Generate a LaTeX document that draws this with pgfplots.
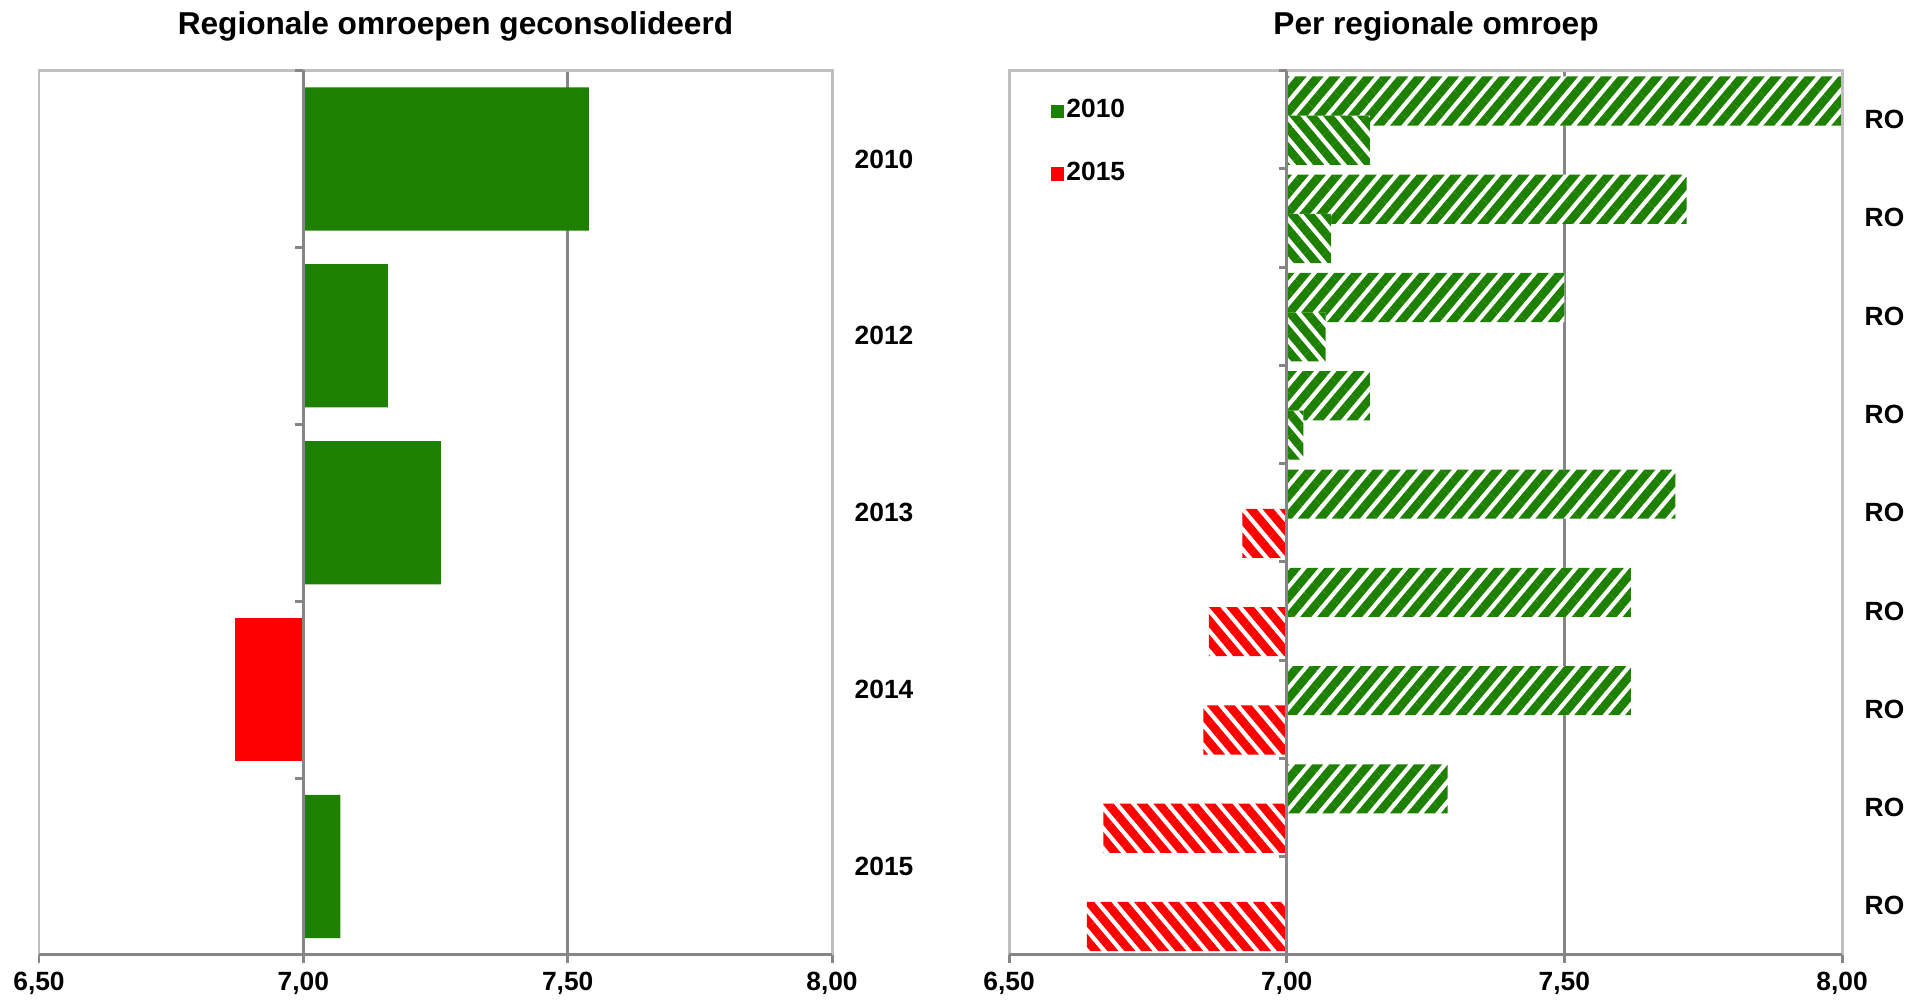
\documentclass[border=0pt]{standalone}
\usepackage{fontspec}
\setmainfont{Liberation Sans}
\usepackage{pgfplots}
\pgfplotsset{compat=1.18}
\usetikzlibrary{patterns.meta}
\definecolor{xgreen}{RGB}{30,128,0}
\definecolor{xred}{RGB}{255,0,0}
\definecolor{framegray}{RGB}{191,191,191}
\definecolor{axisgray}{RGB}{134,134,134}
\newcommand{\labfont}{\fontsize{7.5}{9}\selectfont\bfseries}
\tikzset{
  lab/.style={anchor=west, inner sep=0pt, xshift=2.2mm, font=\labfont},
  gnel/.style={fill=white, draw=none, postaction={pattern={Lines[angle=50,distance=1.3mm,line width=0.85mm]}, pattern color=xgreen}},
  gnwl/.style={fill=white, draw=none, postaction={pattern={Lines[angle=-50,distance=1.3mm,line width=0.85mm]}, pattern color=xgreen}},
  rnwl/.style={fill=white, draw=none, postaction={pattern={Lines[angle=-50,distance=1.3mm,line width=0.85mm]}, pattern color=xred}},
}
\pgfplotsset{
  panel/.style={
    scale only axis, anchor=south west, clip mode=individual,
    xmin=-0.5, xmax=1,
    x filter/.expression={x-7},
    axis line style={draw=none},
    xtick={-0.5,0,0.5,1},
    xticklabels={{6,50},{7,00},{7,50},{8,00}},
    xtick pos=left,
    ytick=\empty,
    tick align=outside,
    major tick length=0.8mm,
    tick style={axisgray, line width=0.85pt},
    xticklabel style={font=\labfont, inner sep=0pt, anchor=north, yshift=-0.8mm},
  },
}
\begin{document}
\begin{tikzpicture}
\useasboundingbox (0,0) rectangle (190.6mm,100mm);
\node[font=\fontsize{9}{11}\selectfont\bfseries, anchor=base] at (45.55mm,96.5mm) {Regionale omroepen geconsolideerd};
\node[font=\fontsize{9}{11}\selectfont\bfseries, anchor=base] at (143.6mm,96.5mm) {Per regionale omroep};

% Left panel
\begin{axis}[panel, at={(3.9mm,4.5mm)}, width=79.3mm, height=88.45mm, ymin=-0.5, ymax=4.5]
\draw[axisgray, line width=0.85pt] (rel axis cs:0.66667,0) -- (rel axis cs:0.66667,1);
\addplot[xbar, bar width=0.81, bar shift=0, fill=xgreen, draw=none, forget plot]
  coordinates {(7.54,4) (7.16,3) (7.26,2) (7.07,0)};
\addplot[xbar, bar width=0.81, bar shift=0, fill=xred, draw=none, forget plot]
  coordinates {(6.87,1)};
\draw[framegray, line width=0.85pt] (rel axis cs:0,0) -- (rel axis cs:0,1) -- (rel axis cs:1,1) -- (rel axis cs:1,0);
\draw[axisgray, line width=0.85pt] (rel axis cs:0.33333,0) -- (rel axis cs:0.33333,1);
\pgfplotsinvokeforeach{0.2,0.4,0.6,0.8,1}{\draw[axisgray, line width=0.85pt] (rel axis cs:0.33333,#1) -- ++(-0.8mm,0pt);}
\draw[axisgray, line width=0.85pt] (rel axis cs:0,0) -- (rel axis cs:1,0);
\node[lab] at (rel axis cs:1,0.9) {2010};
\node[lab] at (rel axis cs:1,0.7) {2012};
\node[lab] at (rel axis cs:1,0.5) {2013};
\node[lab] at (rel axis cs:1,0.3) {2014};
\node[lab] at (rel axis cs:1,0.1) {2015};
\end{axis}

% Right panel
\begin{axis}[panel, at={(100.9mm,4.5mm)}, width=83.3mm, height=88.45mm, ymin=-0.5, ymax=8.5,
  legend image code/.code={\fill[#1] (0.2mm,-0.6mm) rectangle (1.4mm,0.6mm);},
  legend style={at={(0.049,0.971)}, anchor=north west, draw=none, fill=none, inner sep=0pt,
    row sep=3.4mm, font=\labfont, nodes={inner sep=0.25mm}},
  legend cell align=left]
\draw[axisgray, line width=0.85pt] (rel axis cs:0.66667,0) -- (rel axis cs:0.66667,1);
% 2010
\addplot[xbar, bar width=0.5, bar shift=0.19, gnel, forget plot]
  coordinates {(8.00,8) (7.72,7) (7.50,6) (7.15,5) (7.70,4) (7.62,3) (7.62,2) (7.29,1)};
% 2015 (positive)
\addplot[xbar, bar width=0.5, bar shift=-0.21, gnwl, forget plot]
  coordinates {(7.15,8) (7.08,7) (7.07,6) (7.03,5)};
% 2015 (negative)
\addplot[xbar, bar width=0.5, bar shift=-0.21, rnwl, forget plot]
  coordinates {(6.92,4) (6.86,3) (6.85,2) (6.67,1) (6.64,0)};
\draw[framegray, line width=0.85pt] (rel axis cs:0,0) -- (rel axis cs:0,1) -- (rel axis cs:1,1) -- (rel axis cs:1,0);
\draw[axisgray, line width=0.85pt] (rel axis cs:0.33333,0) -- (rel axis cs:0.33333,1);
\pgfplotsinvokeforeach{1,...,9}{\draw[axisgray, line width=0.85pt] (rel axis cs:0.33333,#1/9) -- ++(-0.8mm,0pt);}
\draw[axisgray, line width=0.85pt] (rel axis cs:0,0) -- (rel axis cs:1,0);
\pgfplotsinvokeforeach{1,...,9}{\node[lab] at (rel axis cs:1,{(19-2*#1)/18}) {RO};}
\addlegendimage{xgreen}
\addlegendimage{xred}
\legend{2010,2015}
\end{axis}
\end{tikzpicture}
\end{document}
